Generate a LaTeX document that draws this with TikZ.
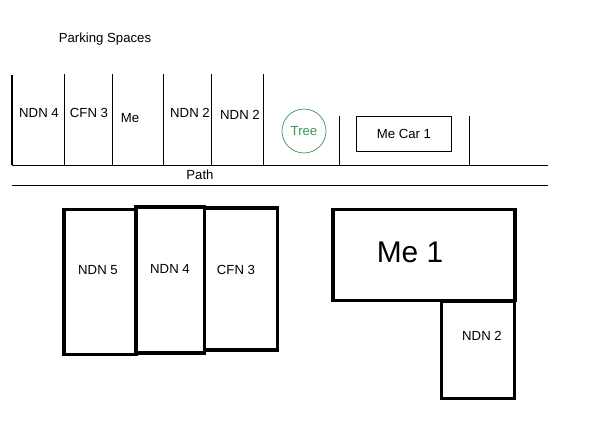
\documentclass[tikz,border=0pt]{standalone}
\usepackage{fontspec}
\setmainfont{Liberation Sans}
\usetikzlibrary{positioning}
\definecolor{treegreen}{RGB}{60,150,80}
\begin{document}
\begin{tikzpicture}[x=0.02cm,y=-0.02cm,
    lbl/.style={font=\fontsize{7.5}{9}\selectfont},
    bay/.style={draw, line width=0.5pt},
    block/.style={draw, line width=2pt}]
      \useasboundingbox (0,0) rectangle (600,430);
      % Define nodes
      \node[lbl] (title) at (105,39) {Parking Spaces};
      \node[lbl] (p1) at (39,113) {NDN 4};
      \node[lbl] (p2) at (89,113) {CFN 3};
      \node[lbl] (p3) at (130,118) {Me};
      \node[lbl] (p4) at (190,113) {NDN 2};
      \node[lbl] (p5) at (240,115) {NDN 2};
      \node[circle, draw=treegreen, text=treegreen, lbl, minimum size=44*0.02cm, inner sep=0pt] (tree) at (304,131) {Tree};
      \node[draw, lbl, minimum width=95*0.02cm, minimum height=35*0.02cm] (car) at (404,134) {Me Car 1};
      \node[lbl] (path) at (200,175) {Path};

      % Draw edges
      \draw[line width=1.5pt] (12,75) -- (12,165);
      \foreach \x in {64,112,163,211,263} \draw[bay] (\x,74) -- (\x,165);
      \foreach \x in {339,469} \draw[bay] (\x,116) -- (\x,165);
      \draw[bay] (12,165) -- (548,165);
      \draw[bay] (12,185) -- (548,185);

      % Blocks
      \node[block, minimum width=72*0.02cm, minimum height=145*0.02cm] (b1) at (100,282) {};
      \node[block, minimum width=69*0.02cm, minimum height=146*0.02cm] (b2) at (170,280) {};
      \node[block, minimum width=73*0.02cm, minimum height=142*0.02cm] (b3) at (241,279) {};
      \node[block, minimum width=182*0.02cm, minimum height=91*0.02cm] (me) at (424,255) {};
      \node[block, minimum width=73*0.02cm, minimum height=97*0.02cm] (b4) at (478,350) {};
      \node[lbl] at (98,270) {NDN 5};
      \node[lbl] at (170,269) {NDN 4};
      \node[lbl] at (236,270) {CFN 3};
      \node[font=\fontsize{17}{20}\selectfont] at (410,252) {Me 1};
      \node[lbl] at (482,336) {NDN 2};
\end{tikzpicture}
\end{document}
